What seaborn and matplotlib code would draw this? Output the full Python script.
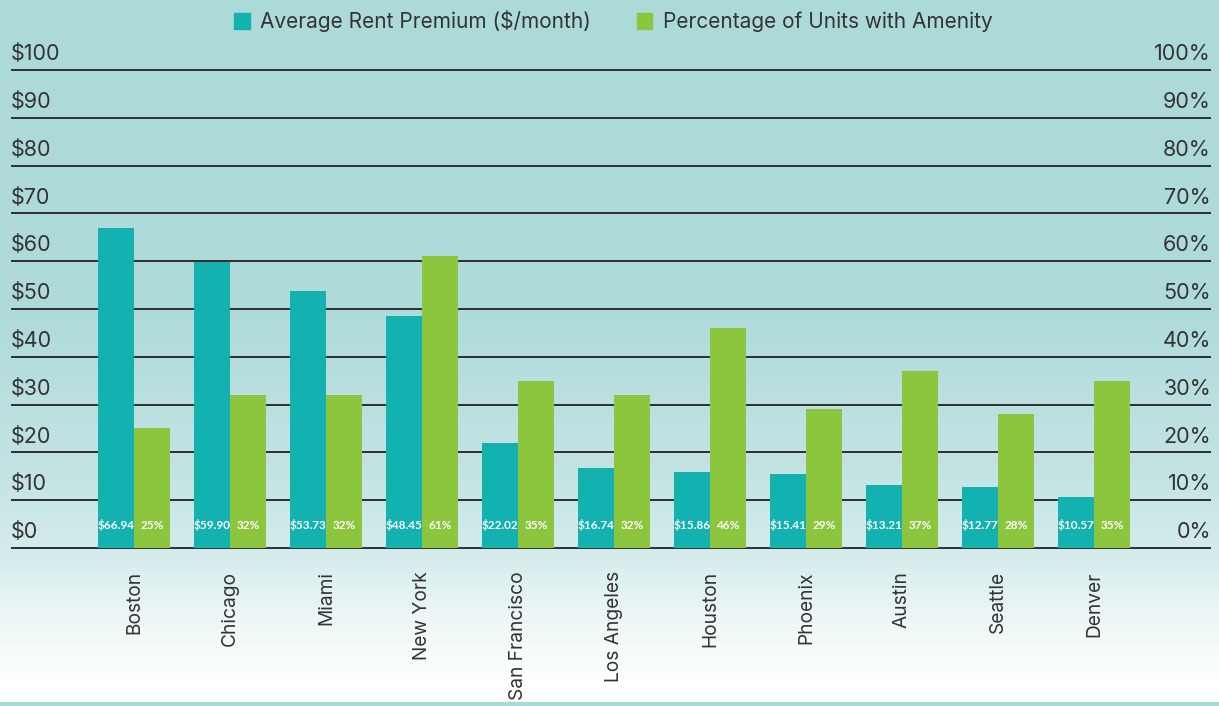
import numpy as np
import pandas as pd
import seaborn as sns
import matplotlib.pyplot as plt
from matplotlib.patches import Patch
from matplotlib.colors import to_rgb

# data
cities = ['Boston', 'Chicago', 'Miami', 'New York', 'San Francisco', 'Los Angeles',
          'Houston', 'Phoenix', 'Austin', 'Seattle', 'Denver']
rent_premium = [66.94, 59.90, 53.73, 48.45, 22.02, 16.74, 15.86, 15.41, 13.21, 12.77, 10.57]
pct_units = [25, 32, 32, 61, 35, 32, 46, 29, 37, 28, 35]
series = ['Average Rent Premium ($/month)', 'Percentage of Units with Amenity']
colors = ['#13b1b0', '#8cc63f']
y_ticks = [0, 10, 20, 30, 40, 50, 60, 70, 80, 90, 100]

sns.set_style('white')
plt.rcParams['font.family'] = ['Inter', 'DejaVu Sans']
txt = '#333333'

df = pd.DataFrame({
    'city': cities * 2,
    'series': [series[0]] * len(cities) + [series[1]] * len(cities),
    'value': rent_premium + pct_units,
})

fig = plt.figure(figsize=(12.19, 7.06), dpi=100)

# background gradient
bg = fig.add_axes([0, 0, 1, 1], zorder=-1)
rows = np.arange(706)
stops_y = [0, 320, 480, 548, 620, 680, 706]
stops_c = [to_rgb(c) for c in ['#acdad9', '#b0dbdb', '#c5e4e4', '#d3ebeb',
                               '#eef7f7', '#ffffff', '#ffffff']]
grad = np.stack([np.interp(rows, stops_y, [c[i] for c in stops_c]) for i in range(3)], axis=1)
bg.imshow(grad[:, None, :], aspect='auto', extent=[0, 1, 0, 1])
bg.axhline(0.003, color='#a9d8d8', lw=3)
bg.set_xlim(0, 1)
bg.set_ylim(0, 1)
bg.axis('off')

ax = fig.add_axes([11 / 1219, 0.2204, 1200 / 1219, 0.9077 - 0.2204])
ax.set_facecolor('none')
sns.barplot(data=df, x='city', y='value', hue='series', hue_order=series,
            palette=colors, width=0.75, saturation=1, linewidth=0,
            ax=ax, legend=False, zorder=2)

ax.set_xlim(-1.28, len(cities) - 1 + 1.22)
ax.set_ylim(-0.5, 101)
ax.set_yticks(y_ticks)
ax.set_yticklabels([])
ax.tick_params(axis='y', length=0)
ax.grid(axis='y', color='#2e2e2e', lw=1.4, zorder=1)
for s in ax.spines.values():
    s.set_visible(False)
ax.set_xlabel('')
ax.set_ylabel('')
ax.tick_params(axis='x', length=0, pad=15, labelsize=13.8, labelcolor=txt)
for lab in ax.get_xticklabels():
    lab.set_rotation(90)
    lab.set_va('top')

# gridlines drawn above bars
for gl in ax.get_ygridlines():
    gl.set_zorder(3)

# axis labels sitting on the gridlines
for v in y_ticks:
    ax.text(0, v + 1.2, f'${v}', transform=ax.get_yaxis_transform(), ha='left',
            va='bottom', fontsize=15.5, color=txt)
    ax.text(1, v + 1.2, f'{v}%', transform=ax.get_yaxis_transform(), ha='right',
            va='bottom', fontsize=15.5, color=txt)

# value labels inside the bars
n = len(cities)
bars = ax.patches[:2 * n]
for i, b in enumerate(bars):
    val = df['value'].iloc[i]
    lab = f'${val:.2f}' if i < n else f'{val:.0f}%'
    ax.text(b.get_x() + b.get_width() / 2, 4.8, lab, ha='center', va='center',
            fontsize=8.5, fontweight='bold', color='white', zorder=4,
            family=['Lato', 'DejaVu Sans'])

handles = [Patch(color=c) for c in colors]
fig.legend(handles, series, loc='upper center', bbox_to_anchor=(0.503, 1.012), ncol=2,
           frameon=False, fontsize=15, handlelength=0.75, handleheight=0.75,
           handletextpad=0.5, columnspacing=2.2, labelcolor=txt)

fig.savefig('out.png', dpi=100)
